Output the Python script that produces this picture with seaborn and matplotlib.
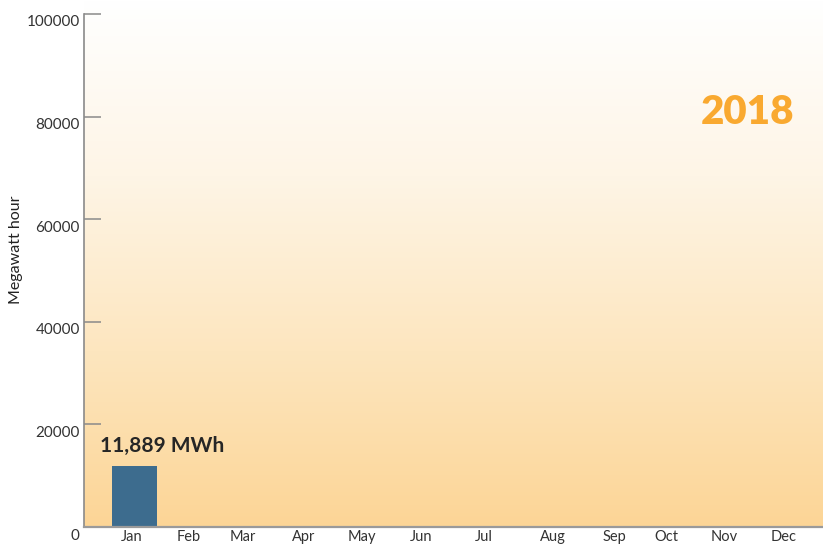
import numpy as np
import pandas as pd
import matplotlib
matplotlib.use("Agg")
import matplotlib.pyplot as plt
import seaborn as sns
from matplotlib.colors import LinearSegmentedColormap
from matplotlib.transforms import ScaledTranslation

# ---- data ----
months = ["Jan", "Feb", "Mar", "Apr", "May", "Jun",
          "Jul", "Aug", "Sep", "Oct", "Nov", "Dec"]
bar_months = ["Jan"]
bar_values = [11889]
y_ticks = [0, 20000, 40000, 60000, 80000, 100000]
year_label = "2018"
value_label = "11,889 MWh"
y_title = "Megawatt hour"

# ---- layout (label positions, in category units) ----
month_label_pos = [-0.04, 0.92, 1.83, 2.86, 3.84, 4.84, 5.90, 7.07, 8.10, 8.98, 9.96, 10.96]

sns.set_theme(style="white")
plt.rcParams["font.family"] = ["Lato", "DejaVu Sans"]

fig = plt.figure(figsize=(8.23, 5.44), dpi=100)
ax = fig.add_axes([84 / 823, 17 / 544, 739 / 823, 527 / 544])

df = pd.DataFrame({"month": bar_months, "mwh": bar_values})

xlim = (-0.853, 11.63)
ylim = (0, 102729)

# gradient background
cmap = LinearSegmentedColormap.from_list("bg", ["#fcd596", "#fde6bf", "#fef5e6", "#ffffff"])
grad = np.linspace(0, 1, 256).reshape(-1, 1)
ax.imshow(grad, extent=[xlim[0], xlim[1], 0, ylim[1]], origin="lower",
          aspect="auto", cmap=cmap, zorder=0)

sns.barplot(data=df, x="month", y="mwh", order=months, color="#3d6c8e",
            saturation=1, width=0.76, ax=ax, zorder=2, linewidth=0, edgecolor="none")

ax.set_xlim(*xlim)
ax.set_ylim(*ylim)

# spines
for s in ["top", "right"]:
    ax.spines[s].set_visible(False)
ax.spines["left"].set_bounds(0, 100000)
ax.spines["left"].set_color("#8a8a8a")
ax.spines["bottom"].set_color("#9a9a9a")
ax.spines["left"].set_linewidth(1.2)
ax.spines["bottom"].set_linewidth(1.6)
ax.spines["left"].set_zorder(3)
ax.spines["bottom"].set_zorder(3)

# ticks
ax.set_yticks(y_ticks)
ax.set_yticklabels([str(v) for v in y_ticks])
ax.tick_params(axis="y", direction="in", length=12.5, width=1.1, color="#8a8a8a",
               labelsize=11, labelcolor="#333333", pad=3, left=True)
off = ScaledTranslation(0, -7 / 100, fig.dpi_scale_trans)
for lab in ax.get_yticklabels():
    lab.set_transform(lab.get_transform() + off)

ax.set_xticks(month_label_pos)
ax.set_xticklabels(months)
ax.tick_params(axis="x", length=0, labelsize=10.5, labelcolor="#333333", pad=2)

ax.set_xlabel("")
ax.set_ylabel(y_title, fontsize=11.5, color="#222222")
ax.yaxis.set_label_coords(-0.083, (527 - 250) / 527)

# annotations
ax.annotate(value_label, xy=(0, bar_values[0]), xytext=(-34.5 * 0.72, 14 * 0.72),
            textcoords="offset points", ha="left", va="baseline",
            fontsize=15, fontweight="bold", color="#262626", zorder=4)
ax.text((747 - 84) / 739, (527 - 113) / 527, year_label, transform=ax.transAxes,
        ha="center", va="center", fontsize=29, fontweight="heavy", color="#f9a930")

fig.savefig("out.png", dpi=100)
